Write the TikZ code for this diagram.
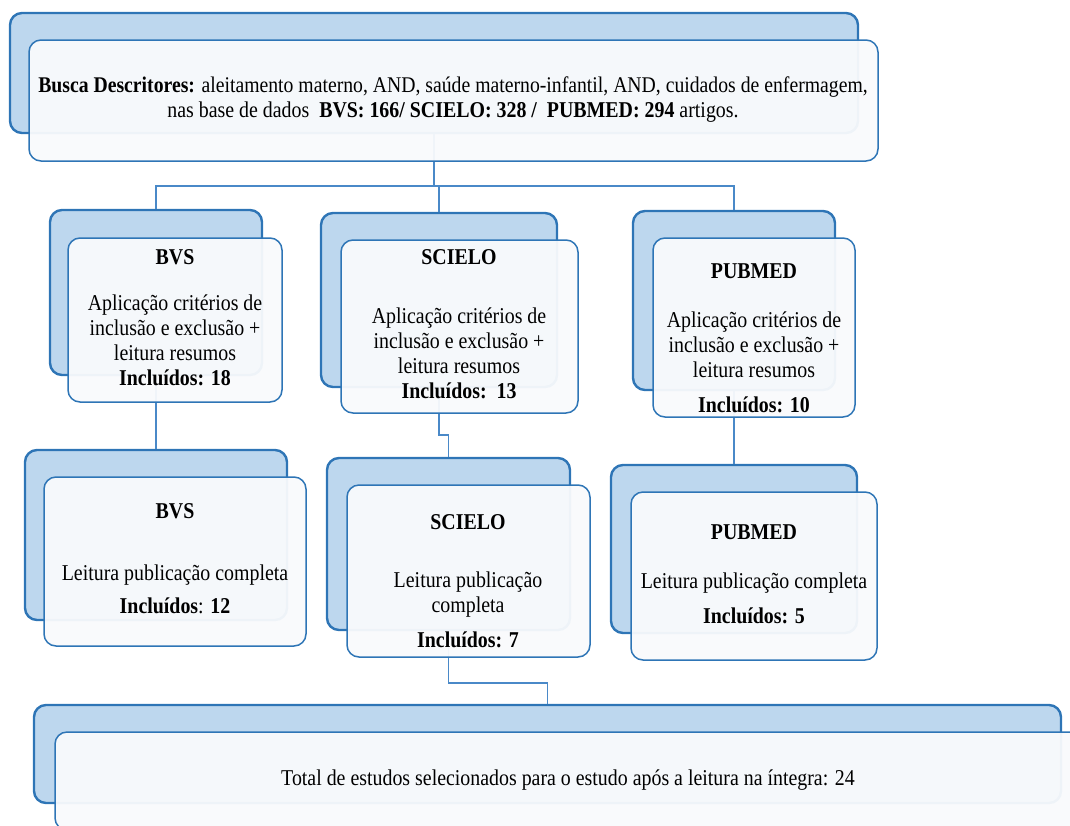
\documentclass[tikz,border=0pt]{standalone}
\usepackage{fontspec}
\setmainfont{Liberation Serif}[FakeStretch=0.88]
\definecolor{backfill}{HTML}{BDD7EE}
\definecolor{edgeblue}{HTML}{2E75B6}
\definecolor{frontfill}{HTML}{F9FAFC}
\definecolor{linkblue}{HTML}{4A89C8}
\begin{document}
\begin{tikzpicture}[x=1pt,y=-1pt,
    backbox/.style={draw=edgeblue,line width=2.4pt,fill=backfill,rounded corners=12pt,inner sep=0pt},
    frontbox/.style={draw=edgeblue,line width=1.5pt,fill=frontfill,fill opacity=0.95,rounded corners=12pt,inner sep=0pt},
    link/.style={draw=linkblue,line width=1.5pt},
    boxtext/.style={align=center,font=\fontsize{22.6}{25}\selectfont,inner sep=0pt}]

      \clip (0,0) rectangle (1070,825);

      % back layer
      \node[backbox,minimum width=848pt,minimum height=120pt] (topB)  at (434,73)    {};
      \node[backbox,minimum width=212pt,minimum height=165pt] (bvsAB) at (156,292.5) {};
      \node[backbox,minimum width=236pt,minimum height=174pt] (sciAB) at (439,300)   {};
      \node[backbox,minimum width=202pt,minimum height=179pt] (pubAB) at (734,300.5) {};
      \node[backbox,minimum width=262pt,minimum height=170pt] (bvsBB) at (156,535)   {};
      \node[backbox,minimum width=243pt,minimum height=172pt] (sciBB) at (448.5,544) {};
      \node[backbox,minimum width=246pt,minimum height=168pt] (pubBB) at (734,549)   {};
      \node[backbox,minimum width=1027pt,minimum height=98pt] (totB)  at (547.5,754) {};

      % connectors
      \path[link] (topB.south) -- ++(0,52) -| (bvsAB.north);
      \path[link] (topB.south) -- ++(0,52) -| (sciAB.north);
      \path[link] (topB.south) -- ++(0,52) -| (pubAB.north);
      \path[link] (bvsAB.south) -- (bvsBB.north);
      \path[link] (sciAB.south) -- ++(0,47) -| (sciBB.north);
      \path[link] (pubAB.south) -- (pubBB.north);
      \path[link] (sciBB.south) -- ++(0,52) -| (totB.north);

      % front layer
      \node[frontbox,minimum width=849pt,minimum height=121pt] (topF)  at (453.5,100.5) {};
      \node[frontbox,minimum width=214pt,minimum height=164pt] (bvsAF) at (175,320)     {};
      \node[frontbox,minimum width=237pt,minimum height=173pt] (sciAF) at (459.5,326.5) {};
      \node[frontbox,minimum width=202pt,minimum height=179pt] (pubAF) at (754,327.5)   {};
      \node[frontbox,minimum width=262pt,minimum height=169pt] (bvsBF) at (175,561.5)   {};
      \node[frontbox,minimum width=243pt,minimum height=172pt] (sciBF) at (468.5,571)   {};
      \node[frontbox,minimum width=246pt,minimum height=168pt] (pubBF) at (754,576)     {};
      \node[frontbox,minimum width=1027pt,minimum height=98pt] (totF)  at (568.5,781)   {};

      % texts
      \begin{scope}[every node/.style={boxtext}]
        \node (topT) at (453,100) {\fontsize{22.4}{24}\selectfont\textbf{Busca Descritores:} aleitamento materno, AND, saúde materno-infantil, AND, cuidados de enfermagem,\\
          nas base de dados\ \ \textbf{BVS: 166/ SCIELO: 328 /\ \ PUBMED: 294} artigos.};
        \node (bvsAT) at (175,318) {\textbf{BVS}\\[21pt] Aplicação critérios de\\ inclusão e exclusão +\\ leitura resumos\\ \textbf{Incluídos: 18}};
        \node (sciAT) at (459,324.5) {\textbf{SCIELO}\\[34pt] Aplicação critérios de\\ inclusão e exclusão +\\ leitura resumos\\ \textbf{Incluídos:\ \ 13}};
        \node (pubAT) at (754,338.5) {\textbf{PUBMED}\\[24pt] Aplicação critérios de\\ inclusão e exclusão +\\ leitura resumos\\[10pt] \textbf{Incluídos: 10}};
        \node (bvsBT) at (175,558.5) {\textbf{BVS}\\[37pt] Leitura publicação completa\\[8pt] \textbf{Incluídos}: \textbf{12}};
        \node (sciBT) at (468,581.5) {\textbf{SCIELO}\\[33pt] Leitura publicação\\ completa\\[10pt] \textbf{Incluídos: 7}};
        \node (pubBT) at (754,574) {\textbf{PUBMED}\\[24pt] Leitura publicação completa\\[10pt] \textbf{Incluídos: 5}};
        \node (totT) at (568,780) {Total de estudos selecionados para o estudo após a leitura na íntegra: 24};
      \end{scope}

\end{tikzpicture}
\end{document}
